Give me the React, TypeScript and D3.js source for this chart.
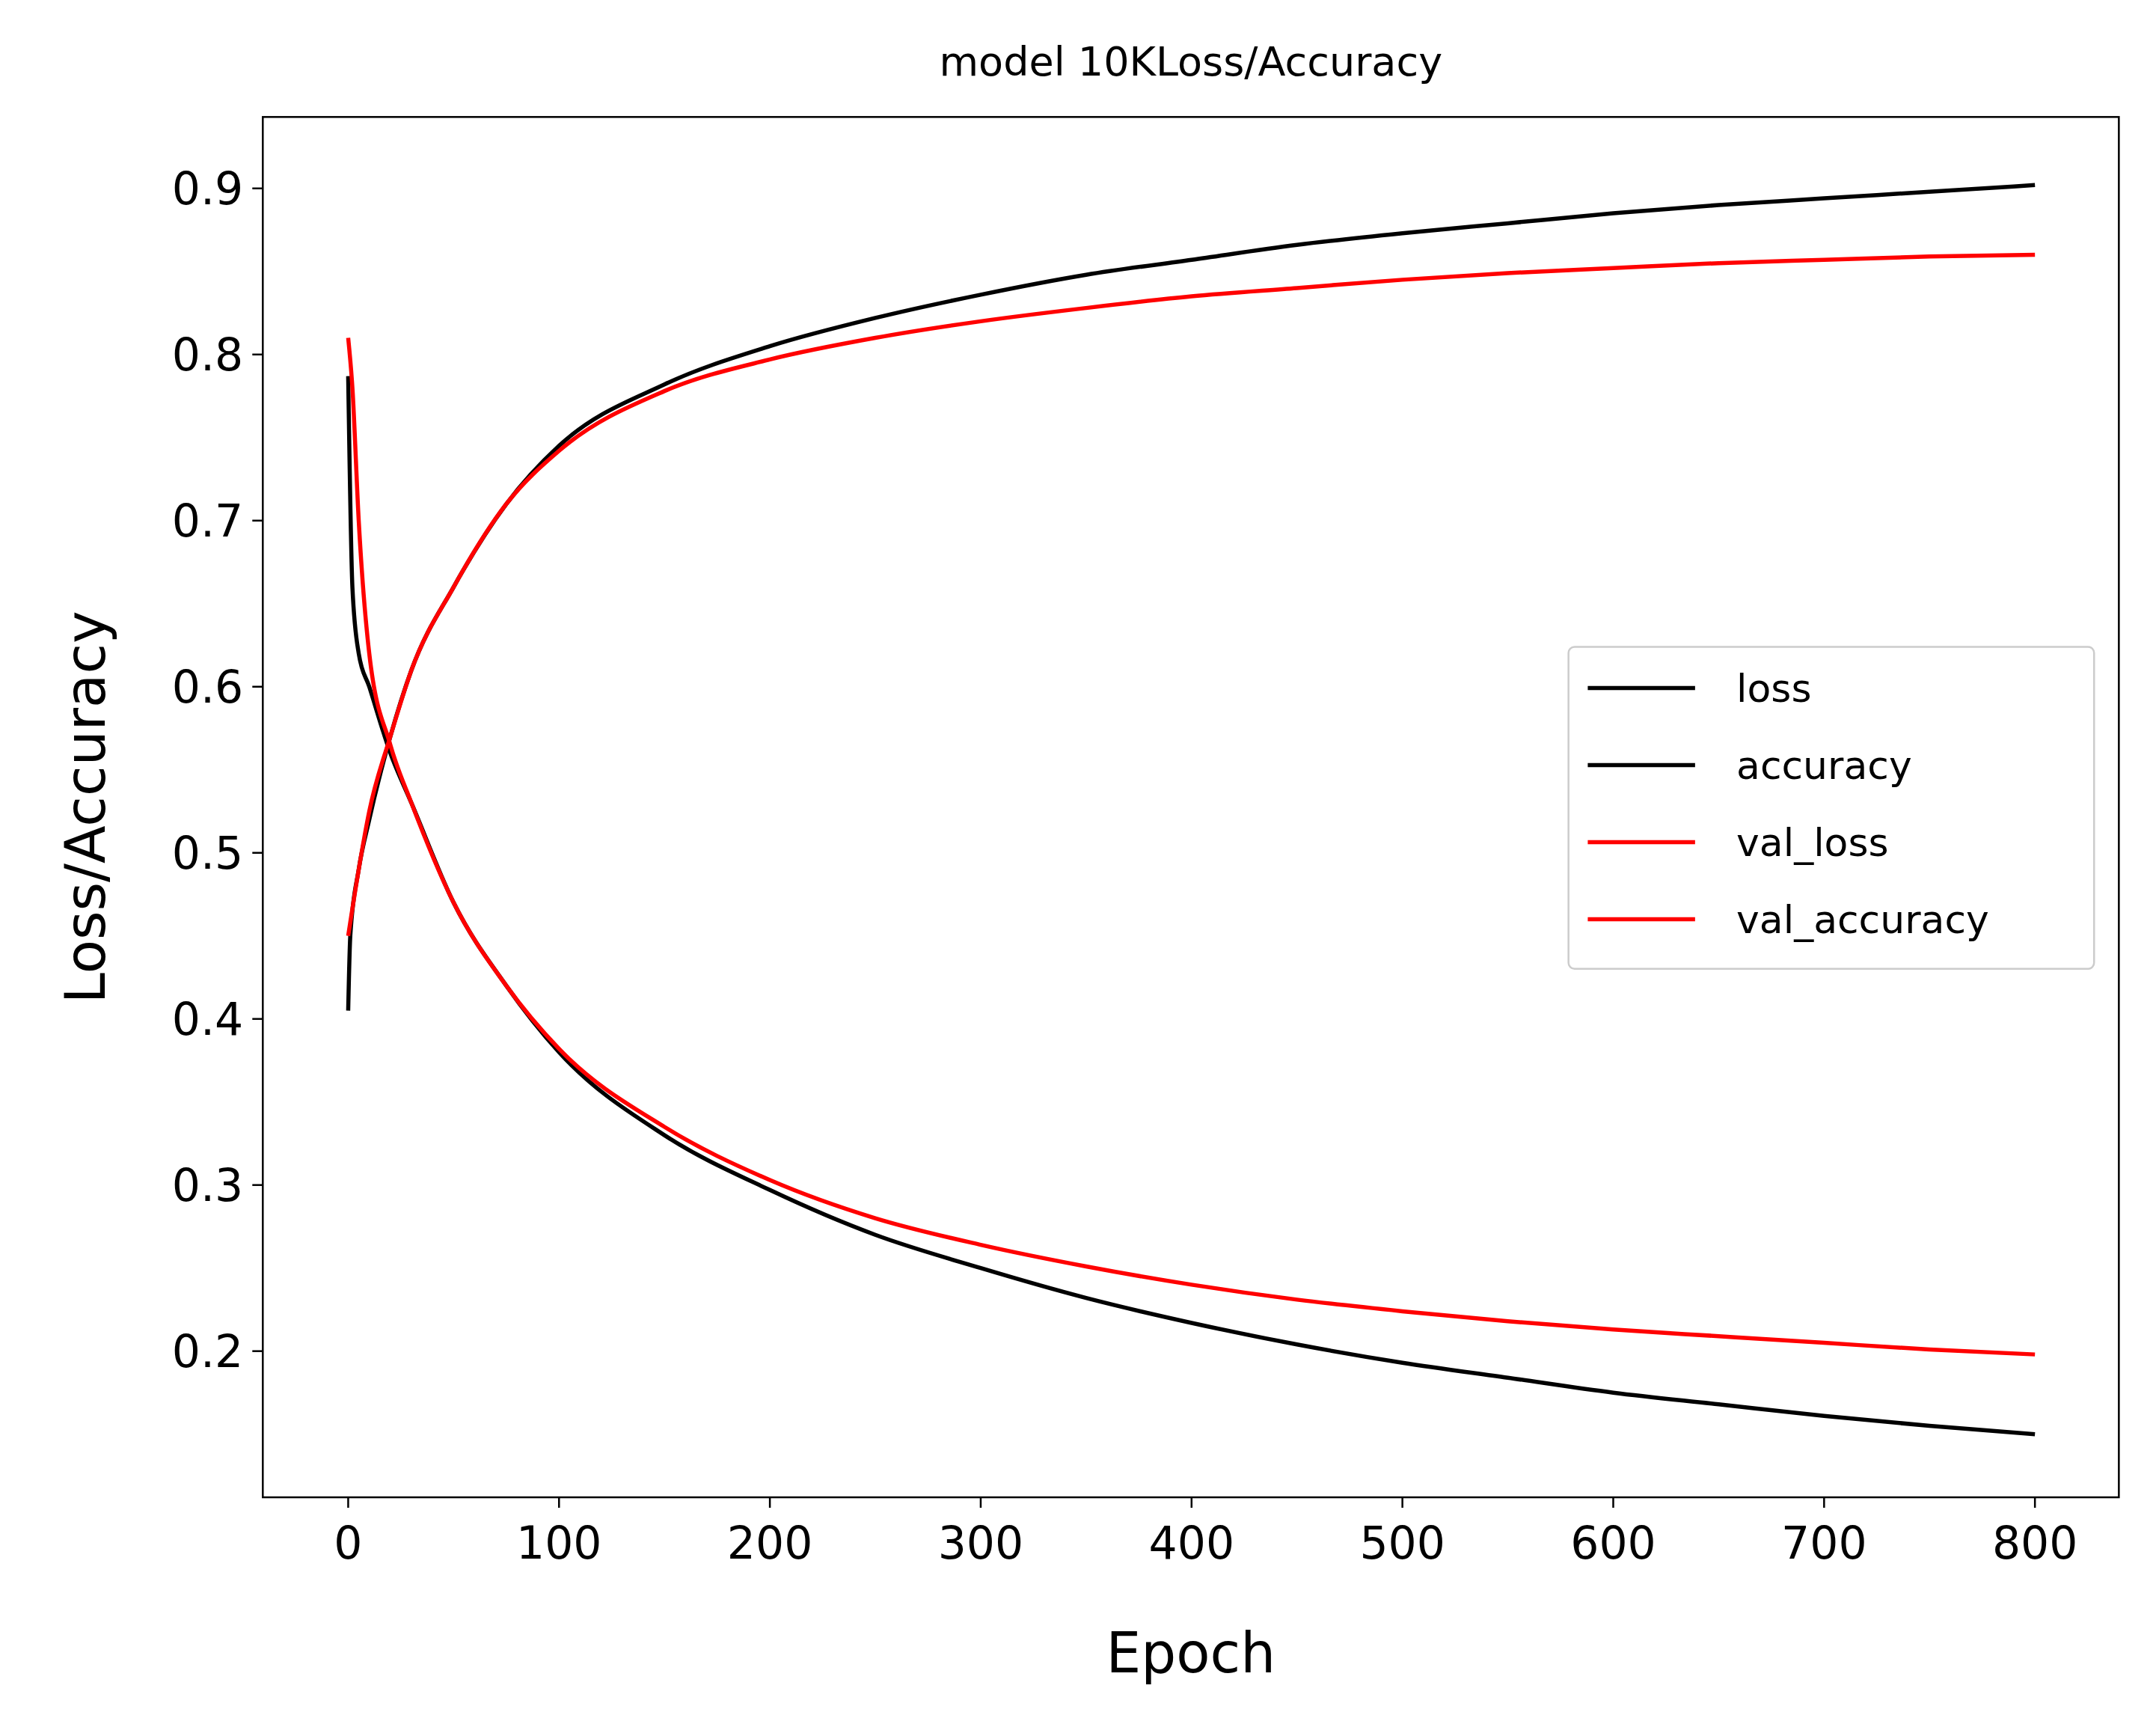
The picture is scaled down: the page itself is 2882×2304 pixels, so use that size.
import React from "react";
import * as d3 from "d3";

const lossEpochs = [0, 2, 5, 10, 20, 30, 50, 75, 100, 150, 200, 250, 300, 350, 400, 450, 500, 550, 600, 650, 700, 750, 800];
const loss = [0.787, 0.66, 0.62, 0.6, 0.56, 0.53, 0.47, 0.42, 0.38, 0.33, 0.297, 0.27, 0.25, 0.232, 0.217, 0.204, 0.193, 0.184, 0.175, 0.168, 0.161, 0.155, 0.15];
const valLossEpochs = [0, 2, 5, 10, 20, 30, 50, 75, 100, 150, 200, 250, 300, 350, 400, 450, 500, 550, 600, 650, 700, 750, 800];
const valLoss = [0.81, 0.78, 0.7, 0.62, 0.565, 0.53, 0.47, 0.42, 0.382, 0.335, 0.303, 0.28, 0.264, 0.251, 0.24, 0.231, 0.224, 0.218, 0.213, 0.209, 0.205, 0.201, 0.198];
const accEpochs = [0, 1, 5, 10, 20, 30, 50, 75, 100, 150, 200, 250, 300, 350, 400, 450, 500, 550, 600, 650, 700, 750, 800];
const accuracy = [0.405, 0.45, 0.49, 0.52, 0.57, 0.61, 0.66, 0.71, 0.745, 0.782, 0.805, 0.822, 0.836, 0.848, 0.857, 0.866, 0.873, 0.879, 0.885, 0.89, 0.894, 0.898, 0.902];
const valAccEpochs = [0, 5, 10, 20, 30, 50, 75, 100, 150, 200, 250, 300, 350, 400, 450, 500, 550, 600, 650, 700, 750, 800];
const valAccuracy = [0.45, 0.49, 0.525, 0.57, 0.61, 0.66, 0.71, 0.742, 0.778, 0.797, 0.81, 0.82, 0.828, 0.835, 0.84, 0.845, 0.849, 0.852, 0.855, 0.857, 0.859, 0.86];
const xTicks = [0, 100, 200, 300, 400, 500, 600, 700, 800];
const yTicks = [0.2, 0.3, 0.4, 0.5, 0.6, 0.7, 0.8, 0.9];

const series = [
  { name: "loss", color: "black", xs: lossEpochs, ys: loss },
  { name: "accuracy", color: "black", xs: accEpochs, ys: accuracy },
  { name: "val_loss", color: "red", xs: valLossEpochs, ys: valLoss },
  { name: "val_accuracy", color: "red", xs: valAccEpochs, ys: valAccuracy },
];

const S = 2882 / 1567;
const L = 191 * S, R = 1540 * S, T = 85 * S, B = 1088 * S;
const font = "DejaVu Sans";

export default function App() {
  const x = d3.scaleLinear().domain([-40.5, 839.8]).range([L, R]);
  const y = d3.scaleLinear().domain([0.112, 0.943]).range([B, T]);
  const line = d3.line<[number, number]>().x(d => x(d[0])).y(d => y(d[1])).curve(d3.curveMonotoneX);
  const lx = 1140 * S, ly = 470 * S, lw = 382 * S, lh = 234 * S;
  return (
    <svg width={2882} height={2304} style={{ position: "absolute", left: 0, top: 0, background: "white" }} fontFamily={font}>
      <rect width={2882} height={2304} fill="white" />
      {series.map(s => (
        <path key={s.name} d={line(s.xs.map((e, i) => [e, s.ys[i]] as [number, number])) || ""} fill="none" stroke={s.color} strokeWidth={5.5} />
      ))}
      <rect x={L} y={T} width={R - L} height={B - T} fill="none" stroke="black" strokeWidth={2.5} />
      {xTicks.map(t => (
        <g key={t}>
          <line x1={x(t)} x2={x(t)} y1={B} y2={B + 14} stroke="black" strokeWidth={2.5} />
          <text x={x(t)} y={B + 82} fontSize={60} textAnchor="middle">{t}</text>
        </g>
      ))}
      {yTicks.map(t => (
        <g key={t}>
          <line x1={L - 14} x2={L} y1={y(t)} y2={y(t)} stroke="black" strokeWidth={2.5} />
          <text x={L - 26} y={y(t) + 21} fontSize={60} textAnchor="end">{t.toFixed(1)}</text>
        </g>
      ))}
      <text x={(L + R) / 2} y={T - 70} fontSize={54} textAnchor="middle" dominantBaseline="middle">model 10KLoss/Accuracy</text>
      <text x={(L + R) / 2} y={1215 * S} fontSize={74} textAnchor="middle">Epoch</text>
      <text transform={`translate(${76 * S},${(T + B) / 2}) rotate(-90)`} fontSize={74} textAnchor="middle">Loss/Accuracy</text>
      <rect x={lx} y={ly} width={lw} height={lh} rx={8} fill="white" stroke="#cccccc" strokeWidth={2.5} />
      {series.map((s, i) => {
        const yy = ly + (30 + i * 56) * S;
        return (
          <g key={s.name}>
            <line x1={lx + 14 * S} x2={lx + 92 * S} y1={yy} y2={yy} stroke={s.color} strokeWidth={5.5} />
            <text x={lx + 122 * S} y={yy + 18} fontSize={52}>{s.name}</text>
          </g>
        );
      })}
    </svg>
  );
}
